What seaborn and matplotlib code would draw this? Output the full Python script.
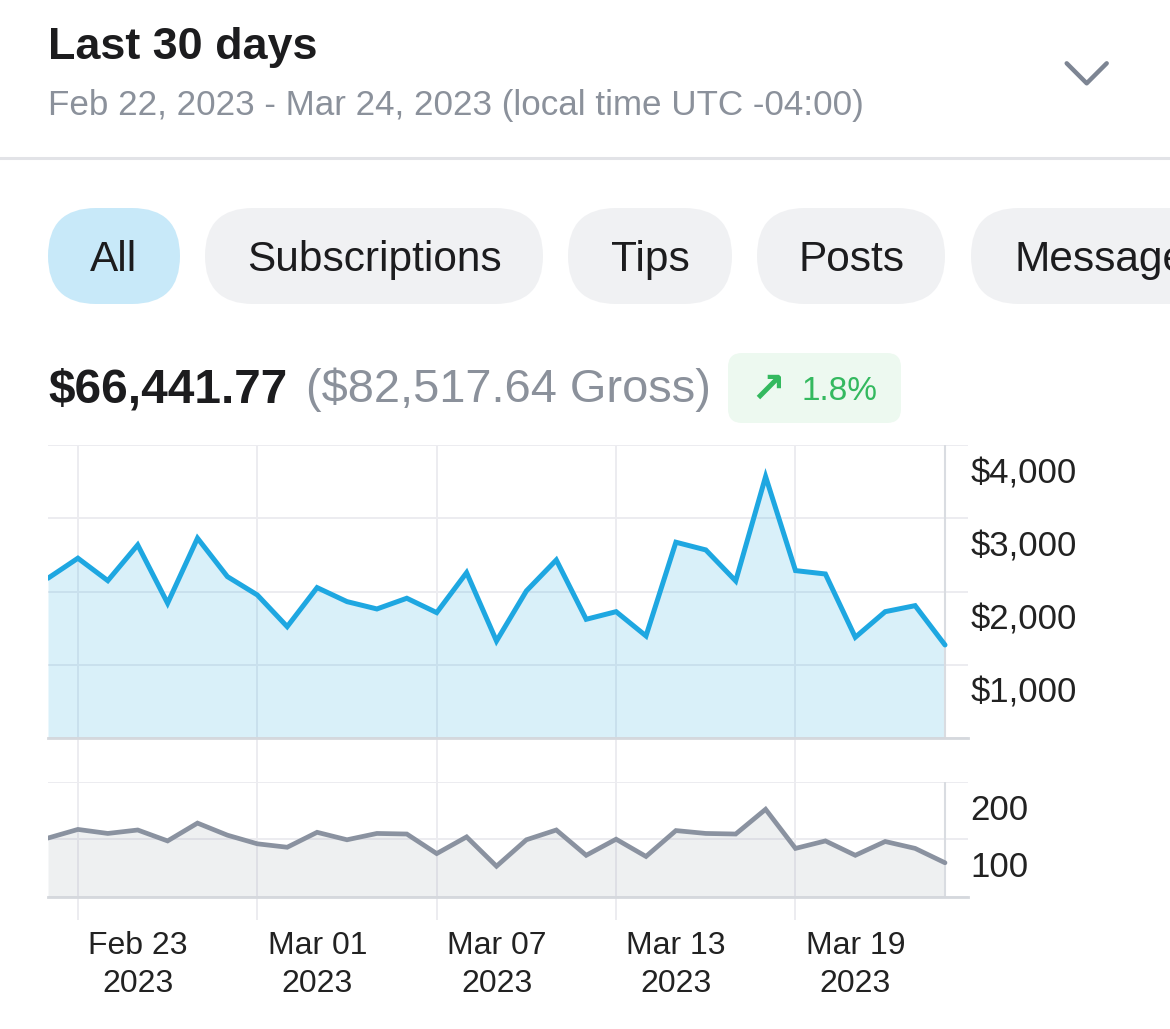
import numpy as np
import pandas as pd
import matplotlib
matplotlib.use("Agg")
import matplotlib.pyplot as plt
import matplotlib.dates as mdates
from matplotlib.transforms import ScaledTranslation
from matplotlib.patches import FancyBboxPatch
import seaborn as sns

# ---------------- data ----------------
dates = pd.date_range("2023-02-22", "2023-03-24", freq="D")
earnings = [2183, 2456, 2150, 2637, 1842, 2729, 2205, 1955, 1523, 2055, 1864,
            1764, 1910, 1714, 2259, 1327, 2010, 2432, 1623, 1727, 1396, 2674,
            2569, 2146, 3569, 2287, 2241, 1378, 1727, 1809, 1273]
counts = [102, 117, 110, 116, 97, 128, 107, 92, 86, 112, 99, 110, 109, 75, 104,
          53, 99, 116, 72, 100, 70, 115, 110, 109, 152, 84, 97, 72, 96, 84, 59]
earn_ticks = [0, 1000, 2000, 3000, 4000]
earn_tick_labels = ["", "$1,000", "$2,000", "$3,000", "$4,000"]
count_ticks = [0, 100, 200]
count_tick_labels = ["", "100", "200"]
date_ticks = pd.to_datetime(["2023-02-23", "2023-03-01", "2023-03-07",
                             "2023-03-13", "2023-03-19"])
date_tick_labels = ["Feb 23\n2023", "Mar 01\n2023", "Mar 07\n2023",
                    "Mar 13\n2023", "Mar 19\n2023"]
filters = ["All", "Subscriptions", "Tips", "Posts", "Messages"]
title = "Last 30 days"
subtitle = "Feb 22, 2023 - Mar 24, 2023 (local time UTC -04:00)"
net_total = "$66,441.77"
gross_total = "($82,517.64 Gross)"
change = "1.8%"

# ---------------- style ----------------
sns.set_theme(style="white")
plt.rcParams["font.family"] = ["Liberation Sans", "DejaVu Sans"]

W, H = 1170, 1029
DPI = 100
fig = plt.figure(figsize=(W / DPI, H / DPI), dpi=DPI)
fig.patch.set_facecolor("white")

BLUE = "#1ea7e1"
GREYLINE = "#8a92a0"
GRID = "#ececf0"
AXLINE = "#d5d8dd"
TXT = "#1c1c1e"
SUB = "#8b919b"
GREEN = "#34b95f"

# ---------------- header (pixel coordinate overlay) ----------------
hdr = fig.add_axes([0, 0, 1, 1], zorder=0)
hdr.set_xlim(0, W)
hdr.set_ylim(H, 0)
hdr.axis("off")

hdr.text(48, 59, title, fontsize=32.3, fontweight="bold", color=TXT, va="baseline")
hdr.text(48, 115, subtitle, fontsize=25.2, color=SUB, va="baseline")
hdr.plot([1066.7, 1086.7, 1106.7], [63.3, 83.3, 63.3], color="#7d8593", lw=3.2,
         solid_capstyle="round", solid_joinstyle="round")
hdr.plot([0, W], [158, 158], color="#e2e3e7", lw=2.2)

pill_x = [(48, 180), (205, 543), (568, 732), (757, 945), (971, 1260)]
pill_col = ["#c8e9f9", "#f0f1f3", "#f0f1f3", "#f0f1f3", "#f0f1f3"]
for (x0, x1), col, lab in zip(pill_x, pill_col, filters):
    hdr.add_patch(FancyBboxPatch((x0, 208), x1 - x0, 96,
                                 boxstyle="round,pad=0,rounding_size=48",
                                 fc=col, ec="none"))
    if lab == "Messages":
        hdr.text(1014, 271, lab, fontsize=30.5, color=TXT, ha="left",
                 va="baseline", clip_on=True)
    else:
        hdr.text((x0 + x1) / 2, 271, lab, fontsize=30.5, color=TXT,
                 ha="center", va="baseline")

hdr.text(48, 402, net_total, fontsize=34.4, fontweight="bold", color=TXT, va="baseline")
hdr.text(306, 402, gross_total, fontsize=33.8, color=SUB, va="baseline")
hdr.add_patch(FancyBboxPatch((728, 353), 173, 70,
                             boxstyle="round,pad=0,rounding_size=14",
                             fc="#edf9f0", ec="none"))
hdr.text(750, 402, "\u2197", fontsize=30, fontweight="bold", color=GREEN,
         va="baseline", family=["DejaVu Sans"])
hdr.text(801, 400, change, fontsize=24, color=GREEN, va="baseline")

# ---------------- charts ----------------
x0num = mdates.date2num(dates[0])
px_per_day = 897 / 30.0
xlim = (x0num, x0num + 920 / px_per_day)

def frac(l, t, r, b):
    return [l / W, 1 - b / H, (r - l) / W, (b - t) / H]

# background axes holding the vertical grid lines across both charts
bg = fig.add_axes(frac(48, 445, 968, 920), zorder=1)
bg.set_xlim(*xlim)
bg.axis("off")
for d in date_ticks:
    bg.axvline(d, color=GRID, lw=1.4)

ax = fig.add_axes(frac(48, 445, 968, 738.3), zorder=2)
ax2 = fig.add_axes(frac(48, 781.7, 968, 896.7), zorder=2)

def style_axis(a, ticks, labels, ymax):
    a.set_facecolor("none")
    a.set_xlim(*xlim)
    a.set_ylim(0, ymax)
    a.set_axisbelow(True)
    for s in ["top", "left", "right"]:
        a.spines[s].set_visible(False)
    a.spines["bottom"].set_color(AXLINE)
    a.spines["bottom"].set_linewidth(2)
    a.yaxis.tick_right()
    a.set_yticks(ticks)
    a.set_yticklabels(labels)
    a.yaxis.grid(True, color=GRID, lw=1.4)
    a.xaxis.grid(False)
    a.tick_params(axis="y", length=0, pad=1.5, labelsize=25, labelcolor="#222222")
    a.set_ylabel("")
    a.set_xlabel("")
    a.axvline(dates[-1], color="#d9dce1", lw=1.5, zorder=1)
    off = ScaledTranslation(0, -25 / DPI, fig.dpi_scale_trans)
    for t in a.get_yticklabels():
        t.set_transform(t.get_transform() + off)

# main earnings chart
ax.fill_between(dates, earnings, 0, color=BLUE, alpha=0.17, lw=0)
sns.lineplot(x=dates, y=earnings, ax=ax, color=BLUE, lw=3.6)
for l in ax.lines:
    l.set_solid_joinstyle("miter")
style_axis(ax, earn_ticks, earn_tick_labels, 4000)
ax.tick_params(axis="x", length=0, labelbottom=False)

# lower count chart
ax2.fill_between(dates, counts, 0, color=GREYLINE, alpha=0.137, lw=0)
sns.lineplot(x=dates, y=counts, ax=ax2, color=GREYLINE, lw=3.4)
for l in ax2.lines:
    l.set_solid_joinstyle("miter")
style_axis(ax2, count_ticks, count_tick_labels, 200)
ax2.set_xticks(date_ticks)
ax2.set_xticklabels(date_tick_labels, linespacing=1.36)
ax2.tick_params(axis="x", length=0, pad=24.5, labelsize=23, labelcolor="#222222")
xoff = ScaledTranslation(60 / DPI, 0, fig.dpi_scale_trans)
for t in ax2.get_xticklabels():
    t.set_transform(t.get_transform() + xoff)

fig.savefig("out.png", dpi=DPI, facecolor="white")
